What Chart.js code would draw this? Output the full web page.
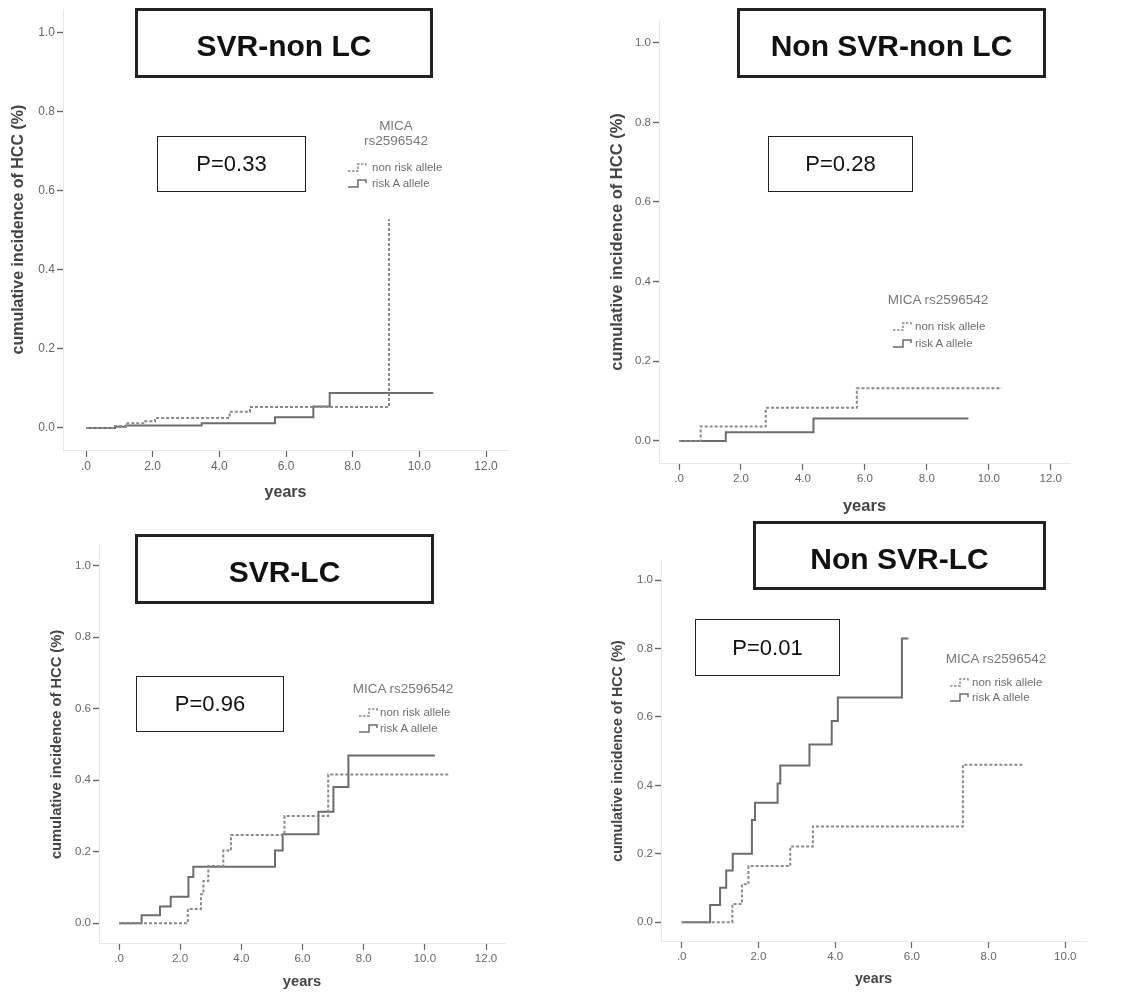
<!DOCTYPE html>
<html>
<head>
<meta charset="utf-8">
<title>MICA rs2596542 - cumulative incidence of HCC</title>
<script src="https://cdn.jsdelivr.net/npm/chart.js@4"></script>
<style>
  body { margin: 0; background: #fff; width: 1131px; height: 994px; position: relative; overflow: hidden;
         font-family: "Liberation Sans", Arial, sans-serif; }
  canvas { position: absolute; }
  .title-box { position: absolute; box-sizing: border-box; border: 3px solid #222; display: flex;
               align-items: center; justify-content: center; font-weight: bold; font-size: 30px;
               color: #111; padding-top: 6px; }
  .p-box { position: absolute; box-sizing: border-box; border: 1.5px solid #222; display: flex;
           align-items: center; justify-content: center; font-size: 22px; color: #111; }
  .lg { position: absolute; color: #777; white-space: nowrap; }
  .lg-title { font-size: 13.5px; line-height: 14px; }
  .lg-item { font-size: 11.5px; line-height: 12px; color: #6e6e6e; }
  svg.sym { position: absolute; overflow: visible; }
</style>
</head>
<body>
<script>
const FONT = '"Liberation Sans", Arial, sans-serif';

// tick labels
const yTickValues = [0, 0.2, 0.4, 0.6, 0.8, 1.0];
const yTickLabels = ['0.0', '0.2', '0.4', '0.6', '0.8', '1.0'];
const xTickValues12 = [0, 2, 4, 6, 8, 10, 12];
const xTickLabels12 = ['.0', '2.0', '4.0', '6.0', '8.0', '10.0', '12.0'];
const xTickValues10 = [0, 2, 4, 6, 8, 10];
const xTickLabels10 = ['.0', '2.0', '4.0', '6.0', '8.0', '10.0'];

// texts
const panelTitles = ['SVR-non LC', 'Non SVR-non LC', 'SVR-LC', 'Non SVR-LC'];
const pValues = ['P=0.33', 'P=0.28', 'P=0.96', 'P=0.01'];
const seriesNames = ['non risk allele', 'risk A allele'];
const legendTitle = 'MICA rs2596542';
const yTitle = 'cumulative incidence of HCC (%)';
const xTitle = 'years';

// SVR-non LC (years at each step, cumulative incidence after the step)
const svrNonLcNonRiskYears = [0, 0.87, 1.2, 1.78, 2.07, 4.31, 4.92, 9.09];
const svrNonLcNonRiskInc   = [0, 0.005, 0.012, 0.017, 0.025, 0.041, 0.053, 0.528];
const svrNonLcRiskYears    = [0, 0.87, 1.2, 3.47, 5.67, 6.82, 7.31, 10.42];
const svrNonLcRiskInc      = [0, 0.003, 0.006, 0.012, 0.027, 0.054, 0.088, 0.088];

// Non SVR-non LC
const nonSvrNonLcNonRiskYears = [0, 0.7, 2.8, 5.74, 10.42];
const nonSvrNonLcNonRiskInc   = [0, 0.036, 0.083, 0.132, 0.132];
const nonSvrNonLcRiskYears    = [0, 1.51, 4.34, 9.34];
const nonSvrNonLcRiskInc      = [0, 0.022, 0.056, 0.056];

// SVR-LC
const svrLcNonRiskYears = [0, 2.25, 2.68, 2.76, 2.92, 3.41, 3.66, 5.41, 6.84, 10.77];
const svrLcNonRiskInc   = [0, 0.04, 0.081, 0.118, 0.16, 0.203, 0.247, 0.30, 0.416, 0.416];
const svrLcRiskYears    = [0, 0.74, 1.34, 1.69, 2.27, 2.43, 5.1, 5.35, 6.52, 7.01, 7.5, 10.33];
const svrLcRiskInc      = [0, 0.022, 0.047, 0.074, 0.129, 0.158, 0.203, 0.249, 0.312, 0.381, 0.469, 0.469];

// Non SVR-LC
const nonSvrLcNonRiskYears = [0, 1.32, 1.57, 1.74, 2.83, 3.42, 7.33, 8.91];
const nonSvrLcNonRiskInc   = [0, 0.053, 0.111, 0.164, 0.221, 0.28, 0.46, 0.46];
const nonSvrLcRiskYears    = [0, 0.74, 1.0, 1.16, 1.33, 1.83, 1.91, 2.5, 2.57, 3.33, 3.91, 4.07, 5.74, 5.91];
const nonSvrLcRiskInc      = [0, 0.05, 0.101, 0.151, 0.2, 0.299, 0.349, 0.405, 0.458, 0.519, 0.588, 0.657, 0.829, 0.829];

// page layout of the four panels
const panels = [
  { title: panelTitles[0], p: pValues[0],
    nonRisk: [svrNonLcNonRiskYears, svrNonLcNonRiskInc], risk: [svrNonLcRiskYears, svrNonLcRiskInc],
    xTicks: xTickValues12, xLabels: xTickLabels12,
    cv: { left: -1, top: 0, width: 561, height: 501 }, pad: { top: 5, right: 52 }, yAxisW: 64, xAxisH: 51,
    xMin: -0.69, xMax: 12.66, yMin: -0.0558, yMax: 1.0583, tickFont: 12, titleFont: 16,
    titleBox: { left: 135, top: 8, width: 298, height: 70 },
    pBox: { left: 157, top: 136, width: 149, height: 56 },
    legend: { cx: 396, titleY: [126, 141], symX: 348, textX: 372, rows: [167, 183] } },
  { title: panelTitles[1], p: pValues[1],
    nonRisk: [nonSvrNonLcNonRiskYears, nonSvrNonLcNonRiskInc], risk: [nonSvrNonLcRiskYears, nonSvrNonLcRiskInc],
    xTicks: xTickValues12, xLabels: xTickLabels12,
    cv: { left: 597, top: 12, width: 513, height: 503 }, pad: { top: 5, right: 40 }, yAxisW: 62, xAxisH: 52,
    xMin: -0.646, xMax: 12.62, yMin: -0.0555, yMax: 1.0548, tickFont: 11.5, titleFont: 16.5,
    titleBox: { left: 737, top: 8, width: 309, height: 70 },
    pBox: { left: 768, top: 136, width: 145, height: 56 },
    legend: { cx: 938, titleY: [300], symX: 893, textX: 915, rows: [326, 343] } },
  { title: panelTitles[2], p: pValues[2],
    nonRisk: [svrLcNonRiskYears, svrLcNonRiskInc], risk: [svrLcRiskYears, svrLcRiskInc],
    xTicks: xTickValues12, xLabels: xTickLabels12,
    cv: { left: 37, top: 537, width: 508, height: 452 }, pad: { top: 5, right: 40 }, yAxisW: 62, xAxisH: 46,
    xMin: -0.654, xMax: 12.62, yMin: -0.0554, yMax: 1.0554, tickFont: 11.5, titleFont: 14.7,
    titleBox: { left: 135, top: 534, width: 299, height: 70 },
    pBox: { left: 136, top: 676, width: 148, height: 56 },
    legend: { cx: 403, titleY: [689], symX: 359, textX: 380, rows: [712, 728] } },
  { title: panelTitles[3], p: pValues[3],
    nonRisk: [nonSvrLcNonRiskYears, nonSvrLcNonRiskInc], risk: [nonSvrLcRiskYears, nonSvrLcRiskInc],
    xTicks: xTickValues10, xLabels: xTickLabels10,
    cv: { left: 598, top: 552, width: 528, height: 434 }, pad: { top: 5, right: 40 }, yAxisW: 63, xAxisH: 45,
    xMin: -0.54, xMax: 10.54, yMin: -0.055, yMax: 1.056, tickFont: 11.5, titleFont: 14.2,
    titleBox: { left: 753, top: 521, width: 293, height: 69 },
    pBox: { left: 695, top: 619, width: 145, height: 57 },
    legend: { cx: 996, titleY: [659], symX: 950, textX: 972, rows: [682, 697] } }
];

function toPoints(years, inc) {
  return years.map((x, i) => ({ x: x, y: inc[i] }));
}

function addDiv(cls, text, box) {
  const d = document.createElement('div');
  d.className = cls;
  d.textContent = text;
  Object.keys(box).forEach(k => { d.style[k] = box[k] + 'px'; });
  document.body.appendChild(d);
  return d;
}

function addSymbol(x, cy, dashed) {
  const ns = 'http://www.w3.org/2000/svg';
  const svg = document.createElementNS(ns, 'svg');
  svg.setAttribute('class', 'sym');
  svg.setAttribute('width', 22);
  svg.setAttribute('height', 12);
  svg.style.left = x + 'px';
  svg.style.top = (cy - 6) + 'px';
  const path = document.createElementNS(ns, 'path');
  path.setAttribute('d', 'M0 10 H10 V3 H18 V6');
  path.setAttribute('fill', 'none');
  path.setAttribute('stroke', dashed ? '#8a8a8a' : '#6c6c6c');
  path.setAttribute('stroke-width', '1.5');
  if (dashed) path.setAttribute('stroke-dasharray', '2.5 1.5');
  svg.appendChild(path);
  document.body.appendChild(svg);
}

function drawPanel(p) {
  const canvas = document.createElement('canvas');
  canvas.width = p.cv.width;
  canvas.height = p.cv.height;
  canvas.style.left = p.cv.left + 'px';
  canvas.style.top = p.cv.top + 'px';
  document.body.appendChild(canvas);

  const tickFont = { family: FONT, size: p.tickFont };
  const axisTitleFont = { family: FONT, size: p.titleFont, weight: 'bold', lineHeight: 1 };

  new Chart(canvas, {
    type: 'scatter',
    data: {
      datasets: [
        {
          label: seriesNames[0],
          data: toPoints(p.nonRisk[0], p.nonRisk[1]),
          showLine: true,
          stepped: true,
          borderColor: '#8a8a8a',
          borderWidth: 2,
          borderDash: [3, 2],
          pointRadius: 0,
          fill: false
        },
        {
          label: seriesNames[1],
          data: toPoints(p.risk[0], p.risk[1]),
          showLine: true,
          stepped: true,
          borderColor: '#6c6c6c',
          borderWidth: 2,
          pointRadius: 0,
          fill: false
        }
      ]
    },
    options: {
      responsive: false,
      animation: false,
      devicePixelRatio: 1,
      layout: { padding: { top: p.pad.top, right: p.pad.right, left: 0, bottom: 0 } },
      plugins: { legend: { display: false }, tooltip: { enabled: false } },
      scales: {
        x: {
          type: 'linear',
          min: p.xMin,
          max: p.xMax,
          afterBuildTicks: s => { s.ticks = p.xTicks.map(v => ({ value: v })); },
          afterFit: s => { s.height = p.xAxisH; },
          ticks: {
            callback: v => p.xLabels[p.xTicks.indexOf(v)],
            color: '#666', font: tickFont, padding: 2, maxRotation: 0, autoSkip: false
          },
          grid: { drawOnChartArea: false, tickLength: 7, tickColor: '#666', tickWidth: 1.2 },
          border: { color: '#e6e6e6', width: 1 },
          title: { display: true, text: xTitle, color: '#444', font: axisTitleFont, padding: { top: 0, bottom: 0 } }
        },
        y: {
          type: 'linear',
          min: p.yMin,
          max: p.yMax,
          afterBuildTicks: s => { s.ticks = yTickValues.map(v => ({ value: v })); },
          afterFit: s => { s.width = p.yAxisW; },
          ticks: {
            callback: v => yTickLabels[yTickValues.indexOf(v)],
            color: '#666', font: tickFont, padding: 2, autoSkip: false
          },
          grid: { drawOnChartArea: false, tickLength: 6, tickColor: '#666', tickWidth: 1.4 },
          border: { color: '#e6e6e6', width: 1 },
          title: { display: true, text: yTitle, color: '#444', font: axisTitleFont,
                   padding: { top: 20 - p.titleFont / 2, bottom: 0 } }
        }
      }
    }
  });

  addDiv('title-box', p.title, p.titleBox);
  addDiv('p-box', p.p, p.pBox);

  // legend: title (one or two lines) and two entries
  const lg = p.legend;
  const titleLines = lg.titleY.length === 2 ? legendTitle.split(' ') : [legendTitle];
  titleLines.forEach((t, i) => {
    const d = addDiv('lg lg-title', t, { top: lg.titleY[i] - 7 });
    d.style.left = (lg.cx - 60) + 'px';
    d.style.width = '120px';
    d.style.textAlign = 'center';
  });
  seriesNames.forEach((name, i) => {
    addSymbol(lg.symX, lg.rows[i], i === 0);
    addDiv('lg lg-item', name, { left: lg.textX, top: lg.rows[i] - 6 });
  });
}

panels.forEach(drawPanel);
</script>
</body>
</html>
